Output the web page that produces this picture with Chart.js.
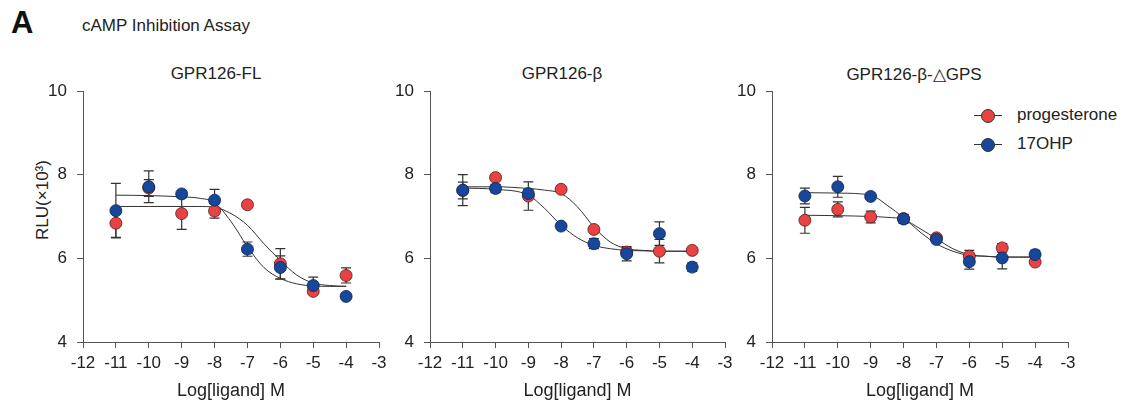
<!DOCTYPE html>
<html>
<head>
<meta charset="utf-8">
<script src="https://cdn.jsdelivr.net/npm/chart.js@4.4.0/dist/chart.umd.min.js"></script>
<style>
  body { margin: 0; background: #fff; font-family: "Liberation Sans", Arial, sans-serif; }
  #wrap { position: relative; width: 1126px; height: 405px; overflow: hidden; }
  canvas { position: absolute; top: 0; }
  .txt { position: absolute; color: #222; white-space: nowrap; }
  .ptitle { font-size: 17px; top: 64px; transform: translateX(-50%); }
  .ytitle { font-size: 17px; left: 43px; top: 200px; transform: translate(-50%, -50%) rotate(-90deg); }
  .leg { position: absolute; left: 974px; height: 14px; }
  .leg .ln { position: absolute; left: 0; top: 7px; width: 28px; border-top: 1px solid #333; }
  .leg .dot { position: absolute; left: 7px; top: 1px; width: 12px; height: 12px; border-radius: 50%; border: 1px solid #333; }
  .leg span { position: absolute; left: 43px; top: -3px; font-size: 17px; color: #222; }
</style>
</head>
<body>
<div id="wrap">
  <div class="txt" style="left:11px;top:5px;font-size:31px;font-weight:bold;color:#111;">A</div>
  <div class="txt" style="left:82px;top:16px;font-size:17px;">cAMP Inhibition Assay</div>
  <div class="txt ptitle" style="left:216px;">GPR126-FL</div>
  <div class="txt ptitle" style="left:562px;">GPR126-β</div>
  <div class="txt ptitle" style="left:914px;">GPR126-β-△GPS</div>
  <div class="txt ytitle">RLU(×10³)</div>
  <div class="leg" style="top:108px;"><div class="ln"></div><div class="dot" style="background:#e84242;"></div><span>progesterone</span></div>
  <div class="leg" style="top:137px;"><div class="ln"></div><div class="dot" style="background:#17479b;"></div><span>17OHP</span></div>
  <canvas id="c1" width="400" height="405" style="left:0px"></canvas>
  <canvas id="c2" width="399" height="405" style="left:347px"></canvas>
  <canvas id="c3" width="400" height="405" style="left:689px"></canvas>
</div>
<script>
// log dose for the measured points
const doses = [-11, -10, -9, -8, -7, -6, -5, -4];
const curveX = [-11, -10, -9, -8.5, -8, -7.5, -7, -6.5, -6, -5.5, -5, -4.5, -4];

// GPR126-FL
const flProg = [6.84, 7.68, 7.07, 7.13, 7.28, 5.87, 5.21, 5.59];
const flProgErr = [0.34, 0.2, 0.38, 0.17, 0.05, 0.36, 0.05, 0.18];
const flOhp = [7.14, 7.71, 7.54, 7.39, 6.22, 5.78, 5.35, 5.09];
const flOhpErr = [0.65, 0.38, 0.05, 0.26, 0.17, 0.28, 0.2, 0.04];
const flProgFit = [7.24, 7.24, 7.24, 7.24, 7.22, 7.07, 6.79, 6.35, 5.95, 5.6, 5.41, 5.35, 5.33];
const flOhpFit = [7.51, 7.5, 7.47, 7.44, 7.33, 6.88, 6.28, 5.78, 5.52, 5.39, 5.34, 5.33, 5.33];

// GPR126-β
const betaProg = [7.62, 7.93, 7.49, 7.65, 6.69, 6.15, 6.17, 6.19];
const betaProgErr = [0.2, 0.05, 0.34, 0.05, 0.05, 0.1, 0.28, 0.05];
const betaOhp = [7.63, 7.67, 7.55, 6.77, 6.35, 6.11, 6.59, 5.79];
const betaOhpErr = [0.37, 0.1, 0.1, 0.05, 0.12, 0.17, 0.28, 0.1];
const betaProgFit = [7.71, 7.71, 7.67, 7.63, 7.55, 7.23, 6.75, 6.39, 6.23, 6.19, 6.17, 6.17, 6.17];
const betaOhpFit = [7.68, 7.65, 7.51, 7.19, 6.79, 6.49, 6.31, 6.23, 6.19, 6.18, 6.17, 6.17, 6.17];

// GPR126-β-△GPS
const gpsProg = [6.91, 7.17, 6.99, 6.95, 6.49, 6.05, 6.25, 5.91];
const gpsProgErr = [0.31, 0.18, 0.14, 0.1, 0.05, 0.14, 0.1, 0.03];
const gpsOhp = [7.49, 7.71, 7.48, 6.94, 6.45, 5.92, 6.01, 6.09];
const gpsOhpErr = [0.19, 0.25, 0.05, 0.1, 0.05, 0.18, 0.26, 0.1];
const gpsProgFit = [7.03, 7.02, 7.0, 6.98, 6.93, 6.71, 6.47, 6.23, 6.09, 6.05, 6.03, 6.03, 6.03];
const gpsOhpFit = [7.57, 7.56, 7.51, 7.27, 6.97, 6.63, 6.35, 6.17, 6.07, 6.05, 6.03, 6.03, 6.03];

const xTicks = [-12, -11, -10, -9, -8, -7, -6, -5, -4, -3];
const yTicks = [4, 6, 8, 10];

const RED = '#e84242';
const BLUE = '#17479b';
const AXIS = '#555';
const FONT = "'Liberation Sans', Arial, sans-serif";

function pts(xs, ys) {
    return xs.map((x, i) => ({ x: x, y: ys[i] }));
}

// draws SD bars from the err arrays attached to the point datasets
const errorBars = {
    id: 'errorBars',
    beforeDatasetsDraw(chart) {
        const ctx = chart.ctx;
        const xs = chart.scales.x, ys = chart.scales.y;
        ctx.save();
        ctx.strokeStyle = '#333';
        ctx.lineWidth = 1.2;
        chart.data.datasets.forEach(ds => {
            if (!ds.err) return;
            ds.data.forEach((p, i) => {
                const e = ds.err[i];
                const px = xs.getPixelForValue(p.x);
                const top = ys.getPixelForValue(p.y + e);
                const bot = ys.getPixelForValue(p.y - e);
                ctx.beginPath();
                ctx.moveTo(px, top); ctx.lineTo(px, bot);
                ctx.moveTo(px - 5, top); ctx.lineTo(px + 5, top);
                ctx.moveTo(px - 5, bot); ctx.lineTo(px + 5, bot);
                ctx.stroke();
            });
        });
        ctx.restore();
    }
};

function makePanel(id, prog, progErr, ohp, ohpErr, progFit, ohpFit, rightPad) {
    const fitStyle = {
        showLine: true, pointRadius: 0, borderColor: '#333', borderWidth: 1,
        cubicInterpolationMode: 'monotone', fill: false, order: 3
    };
    new Chart(document.getElementById(id), {
        type: 'scatter',
        data: {
            datasets: [
                Object.assign({ label: 'progesterone fit', data: pts(curveX, progFit) }, fitStyle),
                Object.assign({ label: '17OHP fit', data: pts(curveX, ohpFit) }, fitStyle),
                {
                    label: 'progesterone', data: pts(doses, prog), err: progErr, order: 2,
                    pointRadius: 6, backgroundColor: RED, borderColor: '#5a1a1a', borderWidth: 0.8
                },
                {
                    label: '17OHP', data: pts(doses, ohp), err: ohpErr, order: 1,
                    pointRadius: 6, backgroundColor: BLUE, borderColor: '#0b2450', borderWidth: 0.8
                }
            ]
        },
        options: {
            responsive: false,
            animation: false,
            layout: { padding: { left: 30, right: rightPad, top: 91, bottom: 0 } },
            plugins: { legend: { display: false }, tooltip: { enabled: false } },
            scales: {
                x: {
                    type: 'linear', min: -12, max: -3,
                    afterBuildTicks: s => { s.ticks = xTicks.map(v => ({ value: v })); },
                    afterFit: s => { s.height = 63; },
                    grid: { drawOnChartArea: false, drawTicks: true, tickLength: 6, color: AXIS },
                    border: { display: true, color: AXIS, width: 1 },
                    ticks: { color: '#222', padding: 5, font: { family: FONT, size: 17 }, maxRotation: 0 },
                    title: {
                        display: true, text: 'Log[ligand] M', color: '#222',
                        font: { family: FONT, size: 18 }, padding: { top: 0, bottom: 3 }
                    }
                },
                y: {
                    type: 'linear', min: 4, max: 10,
                    afterBuildTicks: s => { s.ticks = yTicks.map(v => ({ value: v })); },
                    afterFit: s => { s.width = 53; },
                    grid: { drawOnChartArea: false, drawTicks: true, tickLength: 6, color: AXIS },
                    border: { display: true, color: AXIS, width: 1 },
                    ticks: { color: '#222', padding: 10, font: { family: FONT, size: 17 } }
                }
            }
        },
        plugins: [errorBars]
    });
}

makePanel('c1', flProg, flProgErr, flOhp, flOhpErr, flProgFit, flOhpFit, 21);
makePanel('c2', betaProg, betaProgErr, betaOhp, betaOhpErr, betaProgFit, betaOhpFit, 21);
makePanel('c3', gpsProg, gpsProgErr, gpsOhp, gpsOhpErr, gpsProgFit, gpsOhpFit, 21);
</script>
</body>
</html>
